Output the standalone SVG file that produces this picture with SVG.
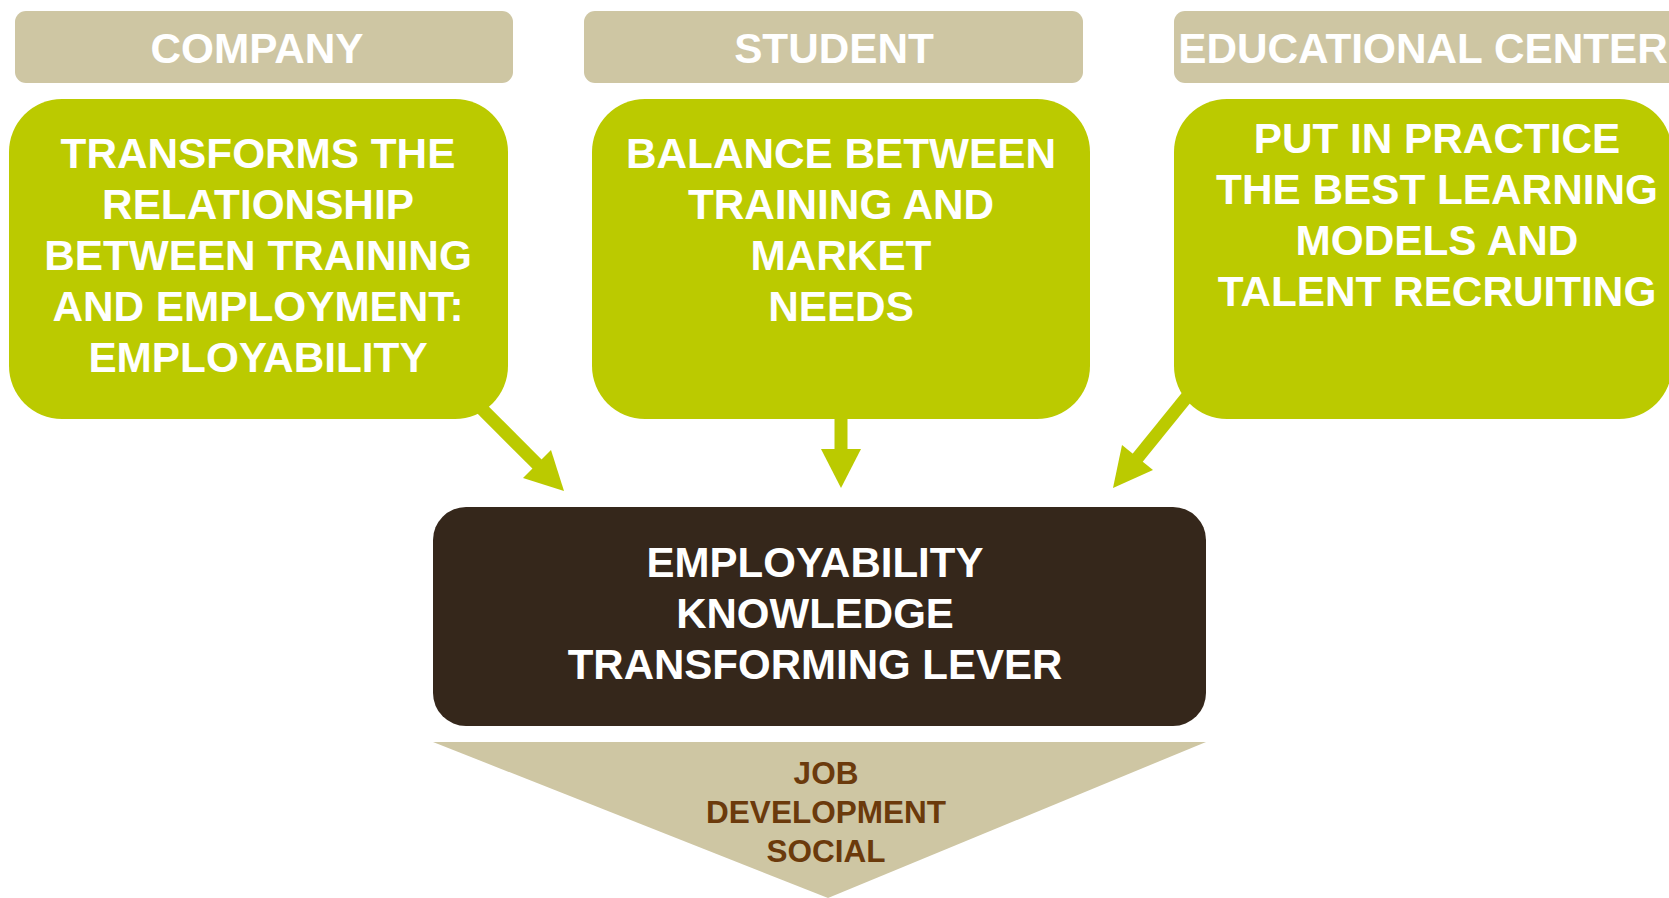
<svg xmlns="http://www.w3.org/2000/svg" width="1669" height="898" viewBox="0 0 1669 898">
<style>
.hdr{fill:#CEC6A3}
.grn{fill:#BBCA00}
.drk{fill:#35271B}
.tri{fill:#CEC6A3}
.ht{font-family:"Liberation Sans",Arial,sans-serif;font-weight:bold;font-size:42.3px;fill:#FFFFFF;text-anchor:middle}
.gt{font-family:"Liberation Sans",Arial,sans-serif;font-weight:bold;font-size:42.3px;fill:#FFFFFF;text-anchor:middle}
.dt{font-family:"Liberation Sans",Arial,sans-serif;font-weight:bold;font-size:42px;fill:#FFFFFF;text-anchor:middle}
.bt{font-family:"Liberation Sans",Arial,sans-serif;font-weight:bold;font-size:31.5px;fill:#6B3A0C;text-anchor:middle}
.shaft{stroke:#BBCA00;stroke-width:13;fill:none}
.head{fill:#BBCA00}
</style>
<rect width="1669" height="898" fill="#FFFFFF"/>
<g id="connectors">
<line class="shaft" x1="468" y1="395" x2="540" y2="467"/>
<polygon class="head" points="523,478 551,450 564,491"/>
<line class="shaft" x1="841" y1="410" x2="841" y2="452"/>
<polygon class="head" points="821,449 861,449 841,488"/>
<line class="shaft" x1="1203" y1="377" x2="1135" y2="461"/>
<polygon class="head" points="1122,445 1153,470 1113,488"/>
</g>
<g id="company-header">
<rect class="hdr" x="15" y="11" width="498" height="72" rx="11"/>
<text class="ht" x="257" y="63">COMPANY</text>
</g>
<g id="student-header">
<rect class="hdr" x="584" y="11" width="499" height="72" rx="11"/>
<text class="ht" x="834" y="63">STUDENT</text>
</g>
<g id="center-header">
<rect class="hdr" x="1174" y="11" width="510" height="72" rx="11"/>
<text class="ht" x="1423" y="63">EDUCATIONAL CENTER</text>
</g>
<g id="company-box">
<rect class="grn" x="9" y="99" width="499" height="320" rx="53"/>
<text class="gt" x="258" y="168">TRANSFORMS THE</text>
<text class="gt" x="258" y="219">RELATIONSHIP</text>
<text class="gt" x="258" y="270">BETWEEN TRAINING</text>
<text class="gt" x="258" y="321">AND EMPLOYMENT:</text>
<text class="gt" x="258" y="372">EMPLOYABILITY</text>
</g>
<g id="student-box">
<rect class="grn" x="592" y="99" width="498" height="320" rx="53"/>
<text class="gt" x="841" y="168">BALANCE BETWEEN</text>
<text class="gt" x="841" y="219">TRAINING AND</text>
<text class="gt" x="841" y="270">MARKET</text>
<text class="gt" x="841" y="321">NEEDS</text>
</g>
<g id="center-box">
<rect class="grn" x="1174" y="99" width="498" height="320" rx="53"/>
<text class="gt" x="1437" y="153">PUT IN PRACTICE</text>
<text class="gt" x="1437" y="204">THE BEST LEARNING</text>
<text class="gt" x="1437" y="255">MODELS AND</text>
<text class="gt" x="1437" y="306">TALENT RECRUITING</text>
</g>
<g id="lever-box">
<rect class="drk" x="433" y="507" width="773" height="219" rx="33"/>
<text class="dt" x="815" y="577">EMPLOYABILITY</text>
<text class="dt" x="815" y="628">KNOWLEDGE</text>
<text class="dt" x="815" y="679">TRANSFORMING LEVER</text>
</g>
<g id="outcome-triangle">
<polygon class="tri" points="433,742 1206,742 828,898"/>
<text class="bt" x="826" y="784">JOB</text>
<text class="bt" x="826" y="823">DEVELOPMENT</text>
<text class="bt" x="826" y="862">SOCIAL</text>
</g>
</svg>
